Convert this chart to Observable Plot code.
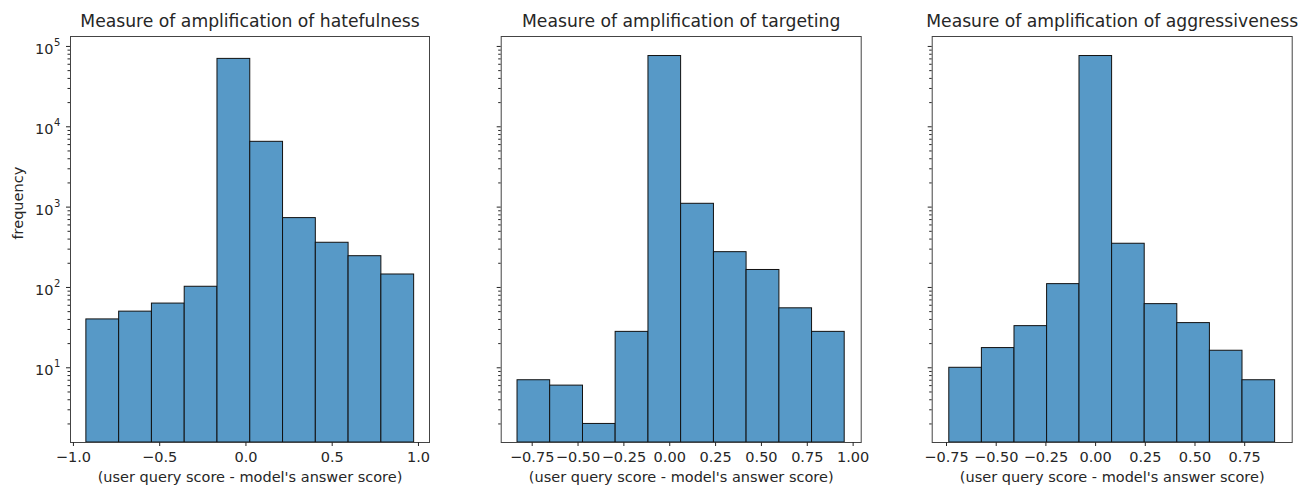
<!DOCTYPE html>
<html>
<head>
<meta charset="utf-8">
<script src="https://cdn.jsdelivr.net/npm/d3@7"></script>
<script src="https://cdn.jsdelivr.net/npm/@observablehq/plot@0.6"></script>
<style>
  html, body { margin: 0; padding: 0; background: #fff; }
  #wrap { position: relative; width: 1311px; height: 489px; overflow: hidden; font-family: "DejaVu Sans", sans-serif; }
  .panel { position: absolute; top: 0; }
</style>
</head>
<body>
<div id="wrap"></div>
<script>
// ---- Data ----
const titles = [
  "Measure of amplification of hatefulness",
  "Measure of amplification of targeting",
  "Measure of amplification of aggressiveness"
];
const xLabel = "(user query score - model's answer score)";
const yLabel = "frequency";

// bin edges (11 edges -> 10 bins per panel)
const edgesHate = [-0.925, -0.735, -0.545, -0.355, -0.165, 0.025, 0.215, 0.405, 0.595, 0.785, 0.975];
const edgesTarget = [-0.830, -0.652, -0.473, -0.295, -0.116, 0.062, 0.241, 0.419, 0.598, 0.776, 0.954];
const edgesAggr = [-0.736, -0.572, -0.408, -0.244, -0.081, 0.083, 0.247, 0.411, 0.575, 0.739, 0.903];

// counts per bin
const countsHate = [40, 50, 63, 102, 70000, 6500, 730, 360, 245, 145];
const countsTarget = [7, 6, 2, 28, 76000, 1100, 275, 165, 55, 28];
const countsAggr = [10, 17.6, 33, 110, 76000, 350, 62, 36, 16.3, 7];

// tick values
const xTicksHate = [-1.0, -0.5, 0.0, 0.5, 1.0];
const xTicksTarget = [-0.75, -0.5, -0.25, 0.0, 0.25, 0.5, 0.75, 1.0];
const xTicksAggr = [-0.75, -0.5, -0.25, 0.0, 0.25, 0.5, 0.75];
const yMajorTicks = [10, 100, 1000, 10000, 100000];
const yMinorTicks = [2,3,4,5,6,7,8,9,20,30,40,50,60,70,80,90,200,300,400,500,600,700,800,900,2000,3000,4000,5000,6000,7000,8000,9000,20000,30000,40000,50000,60000,70000,80000,90000];

// ---- Styles / layout ----
const barFill = "#5799c7";
const ink = "#262626";
const yDomain = [1.175, 1.33e5];
const expOf = d => String(Math.round(Math.log10(d)));

const panels = [
  {title: titles[0], edges: edgesHate, counts: countsHate, xTicks: xTicksHate, fmt: d3.format(".1f"),
   xDomain: [-1.017, 1.064], left: 0, width: 440, marginLeft: 70, marginRight: 11, showY: true},
  {title: titles[1], edges: edgesTarget, counts: countsTarget, xTicks: xTicksTarget, fmt: d3.format(".2f"),
   xDomain: [-0.919, 1.044], left: 440, width: 435, marginLeft: 60.7, marginRight: 14.3, showY: false},
  {title: titles[2], edges: edgesAggr, counts: countsAggr, xTicks: xTicksAggr, fmt: d3.format(".2f"),
   xDomain: [-0.822, 0.989], left: 875, width: 436, marginLeft: 56.7, marginRight: 19.3, showY: false}
];

const wrap = document.getElementById("wrap");
for (const p of panels) {
  const bins = p.counts.map((c, i) => ({x1: p.edges[i], x2: p.edges[i + 1], c}));
  const marks = [
    Plot.rectY(bins, {x1: "x1", x2: "x2", y1: () => yDomain[0], y2: "c", fill: barFill, stroke: "#111", strokeWidth: 1, clip: true}),
    Plot.frame({stroke: "#444", strokeWidth: 1}),
    Plot.axisX({ticks: p.xTicks, tickFormat: p.fmt, tickSize: 4, tickPadding: 5, fontSize: 14.5, color: ink, label: null}),
    Plot.axisY({ticks: yMajorTicks, tickSize: 4, text: null, color: ink, label: null}),
    Plot.axisY({ticks: yMinorTicks, tickSize: 2.5, text: null, color: ink, label: null}),
    Plot.text([p.title], {frameAnchor: "top", dy: -15, lineAnchor: "middle", fontSize: 17.2, fill: ink}),
    Plot.text([xLabel], {frameAnchor: "bottom", dy: 35, lineAnchor: "middle", fontSize: 14.5, fill: ink})
  ];
  if (p.showY) {
    marks.push(
      Plot.text(yMajorTicks, {y: d => d, text: () => "10", frameAnchor: "left", dx: -17, dy: 3, textAnchor: "end", lineAnchor: "middle", fontSize: 14.5, fill: ink}),
      Plot.text(yMajorTicks, {y: d => d, text: expOf, frameAnchor: "left", dx: -16.5, dy: -3.5, textAnchor: "start", lineAnchor: "middle", fontSize: 10, fill: ink}),
      Plot.text([yLabel], {frameAnchor: "left", dx: -52, rotate: -90, lineAnchor: "middle", fontSize: 14.5, fill: ink})
    );
  }
  const chart = Plot.plot({
    width: p.width, height: 489,
    marginLeft: p.marginLeft, marginRight: p.marginRight, marginTop: 36, marginBottom: 47,
    style: {fontFamily: "DejaVu Sans, sans-serif", background: "transparent", overflow: "visible"},
    x: {domain: p.xDomain},
    y: {type: "log", domain: yDomain},
    marks
  });
  chart.classList.add("panel");
  chart.style.left = p.left + "px";
  wrap.appendChild(chart);
}
</script>
</body>
</html>
